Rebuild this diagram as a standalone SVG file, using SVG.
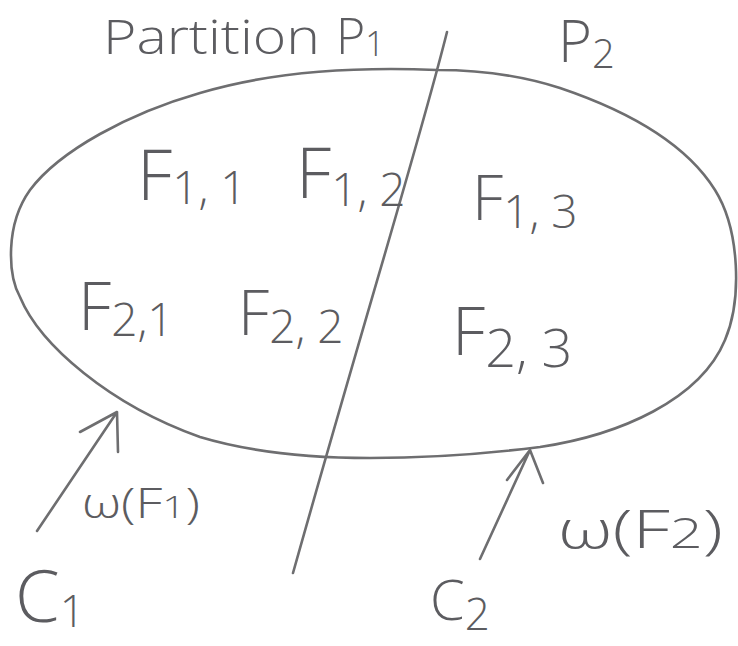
<svg xmlns="http://www.w3.org/2000/svg" width="738" height="646" viewBox="0 0 738 646">
<style>
.ln{fill:none;stroke:#6e6e70;stroke-width:2.6;stroke-linecap:round;stroke-linejoin:round}
.t{font-family:"Open Sans","Liberation Sans",sans-serif;font-weight:300;fill:#5c5c60}
</style>
<rect width="738" height="646" fill="#ffffff"/>
<g id="region">
<path class="ln" d="M 437,70 C 340,66 260,75 200,93 C 130,113 60,150 30,190 C 5,225 8,275 20,297 C 40,345 110,405 200,437 C 260,455 320,458 370,458 C 440,458 500,452 540,447 C 620,435 700,400 725,340 C 742,300 740,230 715,190 C 690,150 640,115 560,88 C 520,75 480,70 437,70 Z"/>
</g>
<g id="partition-line">
<path class="ln" d="M 447,32 C 420,140 370,300 293,573"/>
</g>
<g id="labels">
<text class="t" x="103" y="54" font-size="48" textLength="217" lengthAdjust="spacingAndGlyphs">Partition</text>
<text class="t" x="336" y="54" font-size="50">P<tspan font-size="34" dy="2">1</tspan></text>
<text class="t" x="558" y="62" font-size="58">P<tspan font-size="40" dy="6">2</tspan></text>
</g>
<g id="F11"><text class="t" x="137" y="200" font-size="70">F<tspan font-size="46" dy="4">1, 1</tspan></text></g>
<g id="F12"><text class="t" x="296" y="198" font-size="70">F<tspan font-size="46" dy="8">1, 2</tspan></text></g>
<g id="F13"><text class="t" x="472" y="220" font-size="62">F<tspan font-size="46" dy="8">1, 3</tspan></text></g>
<g id="F21"><text class="t" x="78" y="330" font-size="66">F<tspan font-size="46" dy="6">2,1</tspan></text></g>
<g id="F22"><text class="t" x="238" y="335" font-size="62">F<tspan font-size="46" dy="8">2, 2</tspan></text></g>
<g id="F23"><text class="t" x="452" y="355" font-size="66">F<tspan font-size="54" dy="12">2, 3</tspan></text></g>
<g id="C1">
<text class="t" x="15" y="622" font-size="72">C<tspan font-size="44" dy="5">1</tspan></text>
</g>
<g id="C2">
<text class="t" x="430" y="620" font-size="56">C<tspan font-size="44" dy="10">2</tspan></text>
</g>
<g id="connectors">
<path class="ln" d="M 37,531 L 117,412 M 80,432 L 117,412 L 118,452"/>
<path class="ln" d="M 480,559 L 530,450 M 507,480 L 530,450 L 543,483"/>
</g>
<g id="edge-labels">
<text class="t" x="82" y="518" font-size="42" textLength="118" lengthAdjust="spacingAndGlyphs">ω(F<tspan font-size="32">1</tspan>)</text>
<text class="t" x="558" y="548" font-size="54" textLength="165" lengthAdjust="spacingAndGlyphs">ω(F<tspan font-size="42">2</tspan>)</text>
</g>
</svg>
